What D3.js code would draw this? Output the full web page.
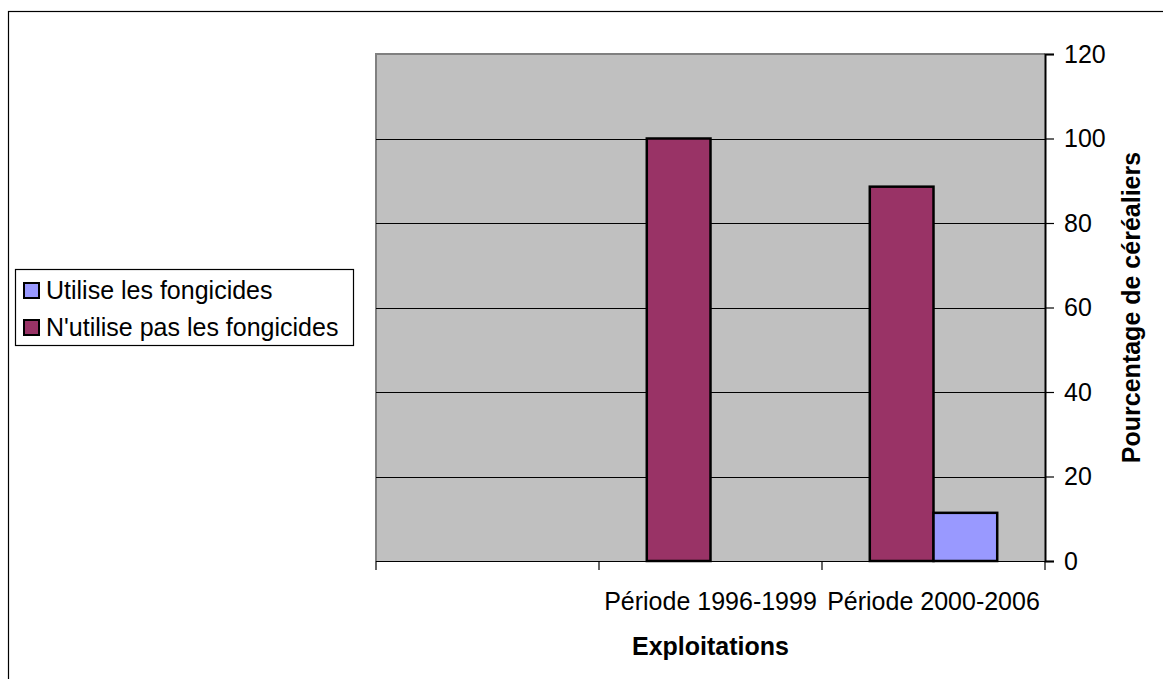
<!DOCTYPE html>
<html>
<head>
<meta charset="utf-8">
<script src="https://cdn.jsdelivr.net/npm/d3@7"></script>
<style>
  html, body { margin: 0; padding: 0; background: #fff; }
  svg { display: block; font-family: "Liberation Sans", Arial, sans-serif; }
</style>
</head>
<body>
<svg id="chart" width="1163" height="679"></svg>
<script>
const categories = ["", "Période 1996-1999", "Période 2000-2006"];
const utilise = [0, 0, 11.4];
const nUtilise = [0, 100, 88.6];
const yTicks = [0, 20, 40, 60, 80, 100, 120];
const legendLabels = ["Utilise les fongicides", "N'utilise pas les fongicides"];
const colors = { utilise: "#9999FF", nUtilise: "#993366" };

const svg = d3.select("#chart");
const W = 1163, H = 679;
const plot = { left: 376, right: 1045, top: 54, bottom: 561 };

// outer border (extends past image on right/bottom)
svg.append("rect").attr("x", 8.5).attr("y", 11.5).attr("width", W + 20).attr("height", H + 20)
  .attr("fill", "#fff").attr("stroke", "#000").attr("stroke-width", 1.2);

const x = d3.scaleBand().domain(categories).range([plot.left, plot.right]).padding(0);
const inner = d3.scaleBand().domain(["nUtilise", "utilise"]).range([0, x.bandwidth()])
  .paddingInner(0).paddingOuter(0.75);
const y = d3.scaleLinear().domain([0, 120]).range([plot.bottom, plot.top]);

// plot background
svg.append("rect").attr("x", plot.left).attr("y", plot.top)
  .attr("width", plot.right - plot.left).attr("height", plot.bottom - plot.top)
  .attr("fill", "#C0C0C0");
// gray top/left border
svg.append("path")
  .attr("d", `M${plot.left},${plot.bottom} V${plot.top} H${plot.right}`)
  .attr("fill", "none").attr("stroke", "#808080").attr("stroke-width", 2);

// gridlines
svg.append("g").selectAll("line").data(yTicks.filter(t => t > 0 && t < 120)).join("line")
  .attr("x1", plot.left).attr("x2", plot.right)
  .attr("y1", d => Math.round(y(d)) + 0.5).attr("y2", d => Math.round(y(d)) + 0.5)
  .attr("stroke", "#000").attr("stroke-width", 1);

// bars
const rows = categories.map((c, i) => ({ c, utilise: utilise[i], nUtilise: nUtilise[i] }));
const keys = ["nUtilise", "utilise"];
const g = svg.append("g");
rows.forEach(r => {
  keys.forEach(k => {
    if (r[k] > 0) {
      g.append("rect")
        .attr("x", x(r.c) + inner(k))
        .attr("y", y(r[k]))
        .attr("width", inner.bandwidth())
        .attr("height", y(0) - y(r[k]))
        .attr("fill", colors[k])
        .attr("stroke", "#000").attr("stroke-width", 2.5);
    }
  });
});

// x axis
const xAxisG = svg.append("g").attr("transform", `translate(0,${plot.bottom})`);
xAxisG.append("line").attr("x1", plot.left).attr("x2", plot.right + 8)
  .attr("y1", 0.5).attr("y2", 0.5).attr("stroke", "#000").attr("stroke-width", 1.2);
const edges = categories.map(c => x(c)).concat([plot.right]);
xAxisG.selectAll("line.tick").data(edges).join("line").attr("class", "tick")
  .attr("x1", d => d).attr("x2", d => d).attr("y1", 0).attr("y2", 9)
  .attr("stroke", "#000").attr("stroke-width", 1.2);
xAxisG.selectAll("text").data(categories).join("text")
  .attr("x", d => x(d) + x.bandwidth() / 2).attr("y", 49)
  .attr("text-anchor", "middle").attr("font-size", 25).attr("fill", "#000")
  .text(d => d);

// y axis on right
const yAxis = d3.axisRight(y).tickValues(yTicks).tickSize(9).tickPadding(10);
const yAxisG = svg.append("g").attr("transform", `translate(${plot.right},0)`).call(yAxis);
yAxisG.select(".domain").attr("stroke", "#000").attr("stroke-width", 2);
yAxisG.selectAll(".tick line").attr("stroke", "#000").attr("stroke-width", 1.2);
yAxisG.selectAll(".tick text").attr("font-size", 25).attr("fill", "#000")
  .attr("font-family", "'Liberation Sans', Arial, sans-serif");

// axis titles
svg.append("text").attr("x", (plot.left + plot.right) / 2).attr("y", 655)
  .attr("text-anchor", "middle").attr("font-size", 25).attr("font-weight", "bold")
  .text("Exploitations");
svg.append("text")
  .attr("transform", `translate(1140,${(plot.top + plot.bottom) / 2}) rotate(-90)`)
  .attr("text-anchor", "middle").attr("font-size", 25).attr("font-weight", "bold")
  .text("Pourcentage de céréaliers");

// legend
const lg = svg.append("g");
lg.append("rect").attr("x", 15.5).attr("y", 269.5).attr("width", 338).attr("height", 76)
  .attr("fill", "#fff").attr("stroke", "#000").attr("stroke-width", 1.2);
const legendKeys = ["utilise", "nUtilise"];
legendLabels.forEach((lab, i) => {
  const cy = 290 + i * 37;
  lg.append("rect").attr("x", 24).attr("y", cy - 7).attr("width", 15).attr("height", 15)
    .attr("fill", colors[legendKeys[i]]).attr("stroke", "#000").attr("stroke-width", 2);
  lg.append("text").attr("x", 46).attr("y", cy + 9).attr("font-size", 25).attr("fill", "#000")
    .text(lab);
});
</script>
</body>
</html>
